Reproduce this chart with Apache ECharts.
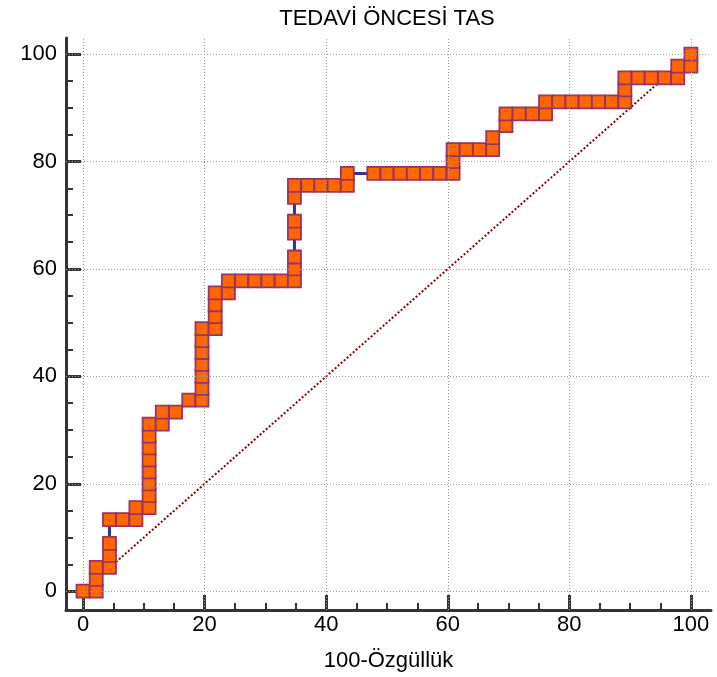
<!DOCTYPE html>
<html>
<head>
<meta charset="utf-8">
<title>TEDAVİ ÖNCESİ TAS</title>
<script src="https://cdn.jsdelivr.net/npm/echarts@6.0.0/dist/echarts.min.js"></script>
<style>
  html, body { margin: 0; padding: 0; background: #fff; }
  #chart { width: 717px; height: 677px; }
</style>
</head>
<body>
<div id="chart"></div>
<script>
const titleText = 'TEDAVİ ÖNCESİ TAS';
const xName = '100-Özgüllük';
const majorTicks = [0, 20, 40, 60, 80, 100];
const minorTicks = [5, 10, 15, 25, 30, 35, 45, 50, 55, 65, 70, 75, 85, 90, 95];

// ROC points (100-specificity, sensitivity)
const fpr = [0, 2.17, 2.17, 2.17, 4.35, 4.35, 4.35, 4.35, 6.52, 8.70, 8.70,
  10.87, 10.87, 10.87, 10.87, 10.87, 10.87, 10.87, 10.87, 13.04, 13.04, 15.22, 17.39,
  19.57, 19.57, 19.57, 19.57, 19.57, 19.57, 19.57, 21.74, 21.74, 21.74, 21.74,
  23.91, 23.91, 26.09, 28.26, 30.43, 32.61,
  34.78, 34.78, 34.78, 34.78, 34.78, 34.78, 34.78, 36.96, 39.13, 41.30, 43.48, 43.48,
  47.83, 50.00, 52.17, 54.35, 56.52, 58.70, 60.87, 60.87, 60.87, 63.04, 65.22,
  67.39, 67.39, 69.57, 69.57, 71.74, 73.91, 76.09, 76.09, 78.26, 80.43, 82.61, 84.78, 86.96,
  89.13, 89.13, 89.13, 91.30, 93.48, 95.65, 97.83, 97.83, 100, 100];
const tpr = [0, 0, 2.22, 4.44, 4.44, 6.67, 8.89, 13.33, 13.33, 13.33, 15.56,
  15.56, 17.78, 20.00, 22.22, 24.44, 26.67, 28.89, 31.11, 31.11, 33.33, 33.33, 35.56,
  35.56, 37.78, 40.00, 42.22, 44.44, 46.67, 48.89, 48.89, 51.11, 53.33, 55.56,
  55.56, 57.78, 57.78, 57.78, 57.78, 57.78,
  57.78, 60.00, 62.22, 66.67, 68.89, 73.33, 75.56, 75.56, 75.56, 75.56, 75.56, 77.78,
  77.78, 77.78, 77.78, 77.78, 77.78, 77.78, 77.78, 80.00, 82.22, 82.22, 82.22,
  82.22, 84.44, 86.67, 88.89, 88.89, 88.89, 88.89, 91.11, 91.11, 91.11, 91.11, 91.11, 91.11,
  91.11, 93.33, 95.56, 95.56, 95.56, 95.56, 95.56, 97.78, 97.78, 100];
const diagonal = [[0, 0], [100, 100]];

const FONT = 'Liberation Sans, Arial, sans-serif';
const xMin = -2.8, xMax = 103.3;
const yMin = -3.5, yMax = 103;

const rocData = fpr.map((x, i) => [x, tpr[i]]);

const gridLines = [
  ...majorTicks.map(v => ({ xAxis: v })),
  ...majorTicks.map(v => ({ yAxis: v }))
];

function mainAxis(min, max, isX) {
  return {
    type: 'value',
    min: min,
    max: max,
    position: isX ? 'bottom' : 'left',
    name: isX ? xName : '',
    nameLocation: 'middle',
    nameGap: 40,
    nameTextStyle: { fontFamily: FONT, fontSize: 22, color: '#000' },
    axisLine: { show: true, onZero: false, lineStyle: { color: '#333', width: 3 } },
    axisTick: { show: true, inside: true, length: 15, customValues: majorTicks,
      lineStyle: { color: '#333', width: 3 } },
    axisLabel: { show: true, customValues: majorTicks, fontFamily: FONT, fontSize: 22,
      color: '#000', margin: isX ? 4 : 9 },
    splitLine: { show: false }
  };
}

function minorAxis(min, max, isX) {
  return {
    type: 'value',
    min: min,
    max: max,
    position: isX ? 'bottom' : 'left',
    axisLine: { show: false, onZero: false },
    axisTick: { show: true, inside: true, length: 7, customValues: minorTicks,
      lineStyle: { color: '#333', width: 2 } },
    axisLabel: { show: false },
    splitLine: { show: false }
  };
}

const chart = echarts.init(document.getElementById('chart'));

const option = {
  animation: false,
  backgroundColor: '#fff',
  title: {
    text: titleText,
    left: 382,
    textAlign: 'center',
    top: 3,
    textStyle: { fontFamily: FONT, fontSize: 22, fontWeight: 'normal', color: '#000' }
  },
  grid: { left: 66, right: 6, top: 38, bottom: 67 },
  xAxis: [mainAxis(xMin, xMax, true), minorAxis(xMin, xMax, true)],
  yAxis: [mainAxis(yMin, yMax, false), minorAxis(yMin, yMax, false)],
  series: [
    {
      type: 'line',
      xAxisIndex: 0,
      yAxisIndex: 0,
      data: diagonal,
      showSymbol: false,
      z: 1,
      lineStyle: { color: '#8b0000', width: 2, type: [2, 2] },
      markLine: {
        silent: true,
        symbol: ['none', 'none'],
        label: { show: false },
        lineStyle: { color: '#9a9a9a', width: 1, type: [1, 2] },
        data: gridLines
      }
    },
    {
      type: 'line',
      xAxisIndex: 0,
      yAxisIndex: 0,
      data: rocData,
      z: 3,
      symbol: 'rect',
      symbolSize: 13,
      showAllSymbol: true,
      lineStyle: { color: '#333399', width: 3 },
      itemStyle: { color: '#ff6600', borderColor: '#993366', borderWidth: 1.8 }
    }
  ]
};

chart.setOption(option);
</script>
</body>
</html>
